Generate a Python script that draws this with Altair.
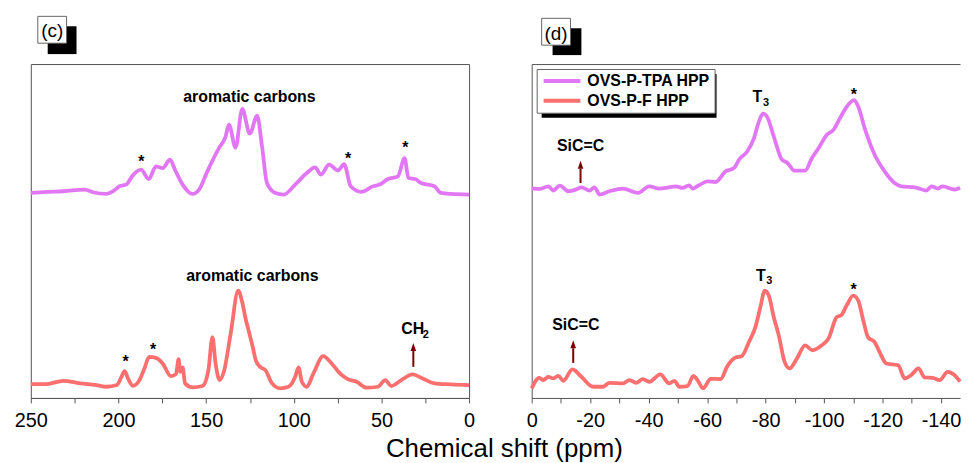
import altair as alt
import pandas as pd

FONT = "Liberation Sans"
FRAME = "#555555"
VIOLET = "#E277F6"
RED = "#FB6F6F"
ARROW = "#7A0000"
SERIES = ["OVS-P-TPA HPP", "OVS-P-F HPP"]

# ---------------- panel (c): 13C spectra ----------------
c_top_ppm = [250, 240.9, 231.5, 219.2, 214.5, 206.9, 203.1, 199.4, 195.6, 191.8, 187.1, 182.7,
             178.6, 174.8, 170.6, 167.6, 163.4, 157.8, 154, 149.3, 142.7, 138.9, 137, 133.2,
             129.4, 125.1, 120.9, 118.1, 115.3, 110.5, 105.8, 99.2, 92.6, 87.8, 84.5, 79.9,
             74.7, 71.3, 67.5, 61.4, 54.8, 51, 46.3, 40.6, 36.8, 34.6, 30.8, 27.4, 19.8, 16,
             10.4, 0]
c_top_int = [206.3, 207.3, 208, 209.7, 207, 205.3, 208, 213, 214.7, 224, 229.7, 220.3,
             233, 231.3, 239.7, 229, 214.7, 205.3, 209.7, 228, 251.3, 263, 275, 252,
             291, 266, 284, 253, 216.3, 206.3, 204.7, 214.7, 226.3, 232, 224.7, 234.7,
             229, 235.3, 213, 207.3, 213, 214.7, 220.3, 223, 241.3, 221.3, 220.3, 216.3, 213, 206.3,
             205.3, 204.7]

c_bot_ppm = [250, 240.9, 231.5, 222, 212.6, 206.9, 200.9, 198.4, 196.5, 194.6, 191.8, 188,
             185.2, 182.4, 178.6, 174.8, 170.1, 167.2, 165.7, 164.8, 163.4, 162, 157.8, 152.1,
             148.7, 146.4, 144.6, 142.3, 139.9, 136, 131.7, 129.5, 127.5, 125.5, 123.5, 121.5,
             119, 116.2, 112.4, 107.7, 103, 99.2, 97.3, 95.4, 92.6, 88.8, 83.2, 78.4, 73.7,
             69, 64.2, 58.6, 52, 47.8, 44.4, 38.7, 32.2, 26.5, 19.8, 10.4, 0]
c_bot_int = [14, 14, 17.3, 14.7, 13, 11.3, 13, 20.7, 27, 19.7, 12.3, 18,
             29.7, 41.3, 40.3, 34.7, 22, 24, 39, 26.3, 30.7, 14.7, 10.7, 12,
             28, 61.3, 34.7, 18, 26.3, 64.7, 108, 97, 80, 66, 52, 37,
             31, 28, 14.7, 9.7, 11.3, 21.3, 30.7, 16.3, 11.3, 24.7, 42, 34.7, 24.7,
             18.7, 16.3, 10.3, 11.3, 18, 12, 18, 23.7, 19.7, 14.7, 13.7, 13]

c_lab_text = ["aromatic carbons", "*", "*", "*", "aromatic carbons", "*", "*"]
c_lab_ppm = [125.3, 187, 69, 36.3, 123.6, 196, 180.3]
c_lab_y = [298, 232, 235, 246, 118, 31, 43]

c_sub_text = ["CH", "2"]
c_sub_ppm = [38.7, 26.4]
c_sub_y = [64, 60]
c_sub_size = [16, 11]

c_arrow_ppm = [31.8]
c_arrow_y0 = [31.3]
c_arrow_y1 = [47.3]
c_arrow_head = [51.3]

# ---------------- panel (d): 29Si spectra ----------------
d_top_ppm = [0, -2.8, -5.7, -7.4, -9.6, -12.5, -15.1, -17, -19.8, -21.5, -23.2, -26.6, -31.2,
             -36.3, -40.2, -43.6, -47, -49.3, -51.6, -53.8, -55, -57.2, -60.1, -62.9, -66.3,
             -69.2, -70.9, -73.7, -76, -77.7, -79.1, -80.5, -82.8, -85.6, -87.3, -89.9, -93.5,
             -95.8, -98.1, -100.9, -103.2, -105.4, -107.7, -110.3, -111.7, -113.9, -117.3,
             -120.7, -124.1, -126.4, -131, -134.9, -136.8, -138.9, -140.6, -144.6, -146.5]
d_top_int = [211, 210.3, 213, 208.7, 213.7, 208, 209.7, 212, 208.7, 212, 204.7, 208, 210.7,
             206.3, 213, 210.7, 212, 213, 211.3, 214, 210.7, 214, 218, 217.3, 228,
             231.3, 239.7, 248, 261.3, 278, 286, 283, 263, 239.7, 237, 228.7, 228.7,
             241.3, 251.3, 264.7, 269.7, 281.3, 293, 299.7, 293, 271.3, 244.7,
             228, 216.3, 213, 212, 208.7, 213, 210.7, 213, 209.7, 211.5]

d_bot_ppm = [0, -2.6, -4, -5.7, -7.4, -9.1, -10.8, -13.9, -17, -21, -24.4, -26.6, -31.2,
             -33.4, -35.7, -38, -40.2, -44, -47, -48.8, -50.5, -53.3, -55.3, -56.7, -58.6,
             -61.2, -64.6, -66.9, -69.7, -71.8, -74.3, -76.5, -78.2, -79.7, -81.1, -82.8,
             -84.5, -86.5, -88.2, -90.7, -93.5, -96, -99.2, -101.5, -104.3, -106, -107.7,
             -110, -111.7, -113.4, -115.1, -117.3, -118.7, -121.3, -125.3, -127.6, -129.8,
             -132.3, -134.4, -137.2, -139.5, -142.3, -144.6, -146.5]
d_bot_int = [9.7, 20.3, 18, 21.3, 19.7, 22.3, 17.3, 28.7, 21.3, 11.3, 11.3, 15.3, 14.7,
             18, 15.3, 19, 16.3, 23.7, 14.7, 17.3, 11.3, 12, 22.3, 18, 9.7,
             19.3, 19, 32, 40.7, 42, 56.3, 71.3, 91.3, 108, 103, 81.3,
             63, 36.3, 29.7, 39.7, 53, 48, 53, 59.7, 81.3, 83.7, 93,
             103, 98, 78, 60.7, 56.3, 48, 34.7, 33, 19.7, 23,
             29.7, 20.7, 20.3, 18, 26.3, 23, 16.5]

d_lab_text = ["*", "SiC=C", "*", "SiC=C"]
d_lab_ppm = [-110.2, -16.7, -110.1, -15.1]
d_lab_y = [300, 248, 104, 68]

d_sub_text = ["T", "3", "T", "3"]
d_sub_ppm = [-75.5, -79.1, -76.7, -80.2]
d_sub_y = [298, 294, 118, 114.5]
d_sub_size = [16, 11, 16, 11]

d_arrow_ppm = [-16.7, -14.2]
d_arrow_y0 = [216.3, 35.3]
d_arrow_y1 = [230.7, 50]
d_arrow_head = [234.7, 54]

# ---------------- tables ----------------
c_spec = pd.concat([
    pd.DataFrame({"ppm": c_top_ppm, "y": c_top_int, "series": SERIES[0]}),
    pd.DataFrame({"ppm": c_bot_ppm, "y": c_bot_int, "series": SERIES[1]}),
])
d_spec = pd.concat([
    pd.DataFrame({"ppm": d_top_ppm, "y": d_top_int, "series": SERIES[0]}),
    pd.DataFrame({"ppm": d_bot_ppm, "y": d_bot_int, "series": SERIES[1]}),
])
c_lab = pd.DataFrame({"ppm": c_lab_ppm, "y": c_lab_y, "text": c_lab_text})
d_lab = pd.DataFrame({"ppm": d_lab_ppm, "y": d_lab_y, "text": d_lab_text})
c_sub = pd.DataFrame({"ppm": c_sub_ppm, "y": c_sub_y, "text": c_sub_text, "size": c_sub_size})
d_sub = pd.DataFrame({"ppm": d_sub_ppm, "y": d_sub_y, "text": d_sub_text, "size": d_sub_size})
c_arr = pd.DataFrame({"ppm": c_arrow_ppm, "y": c_arrow_y0, "y2": c_arrow_y1, "yh": c_arrow_head})
d_arr = pd.DataFrame({"ppm": d_arrow_ppm, "y": d_arrow_y0, "y2": d_arrow_y1, "yh": d_arrow_head})
one = pd.DataFrame({"k": [0]})

W_C, W_D, H = 441, 431, 336

y_scale = alt.Scale(domain=[0, 336], nice=False, zero=False)
c_scale = alt.Scale(domain=[0, 250], reverse=True, nice=False, zero=False)
d_scale = alt.Scale(domain=[-146.5, 0], reverse=True, nice=False, zero=False)

axis_common = dict(domainColor=FRAME, domainWidth=1, tickColor=FRAME, tickWidth=1, tickSize=5,
                   labelFont=FONT, labelFontSize=20, labelColor="black", labelPadding=8,
                   labelFlush=False, labelOverlap=False, grid=False)

c_axis = alt.Axis(values=list(range(0, 251, 25)),
                  labelExpr="datum.value % 50 == 0 ? toString(datum.value) : ''",
                  title="Chemical shift (ppm)", titleFont=FONT, titleFontSize=26,
                  titleFontWeight="normal", titleColor="black", titleX=476, titleY=59,
                  titleAlign="center", titleBaseline="alphabetic", **axis_common)
d_axis = alt.Axis(values=list(range(0, -141, -10)),
                  labelExpr="datum.value % 20 == 0 ? toString(datum.value) : ''",
                  title=None, **axis_common)
d_top_axis = alt.Axis(orient="top", labels=False, ticks=False, domain=True, domainColor=FRAME,
                      domainWidth=1, title=None, grid=False)
d_y_axis = alt.Axis(orient="left", labels=False, ticks=False, domain=True, domainColor=FRAME,
                    domainWidth=1, title=None, grid=False)

Xc = lambda ax: alt.X("ppm:Q", scale=c_scale, axis=ax)
Xd = lambda ax: alt.X("ppm:Q", scale=d_scale, axis=ax)
Yc = alt.Y("y:Q", scale=y_scale, axis=None)
Yd = alt.Y("y:Q", scale=y_scale, axis=d_y_axis)

color_c = alt.Color("series:N", scale=alt.Scale(domain=SERIES, range=[VIOLET, RED]), legend=None)
color_d = alt.Color("series:N", scale=alt.Scale(domain=SERIES, range=[VIOLET, RED]),
                    legend=alt.Legend(title=None, orient="none", legendX=5, legendY=5,
                                      fillColor="white", strokeColor="#666666", padding=4,
                                      symbolType="M-1,0H6.4", symbolSize=100,
                                      symbolStrokeWidth=4, labelFont=FONT, labelFontSize=16,
                                      labelFontWeight="bold", labelColor="black",
                                      labelOffset=31, rowPadding=4, zindex=1))


def panel_tag(label, bx, by, sx, sy, tx, ty):
    shadow = alt.Chart(one).mark_rect(color="black").encode(
        x=alt.value(sx[0]), x2=alt.value(sx[1]), y=alt.value(sy[0]), y2=alt.value(sy[1]))
    box = alt.Chart(one).mark_rect(fill="white", stroke="#666666", strokeWidth=1).encode(
        x=alt.value(bx[0]), x2=alt.value(bx[1]), y=alt.value(by[0]), y2=alt.value(by[1]))
    txt = alt.Chart(one).mark_text(text=label, font=FONT, fontSize=19, color="black",
                                   align="center", baseline="middle").encode(
        x=alt.value(tx), y=alt.value(ty))
    return [shadow, box, txt]


# ---- panel c ----
c_lines = alt.Chart(c_spec).mark_line(strokeWidth=3.8, interpolate="monotone").encode(
    x=Xc(c_axis), y=Yc, color=color_c, detail="series:N")
c_text = alt.Chart(c_lab).mark_text(font=FONT, fontSize=16, fontWeight="bold", color="black",
                                    align="center", baseline="alphabetic").encode(
    x=Xc(c_axis), y=Yc, text="text:N")
c_subt = alt.Chart(c_sub).mark_text(font=FONT, fontWeight="bold", color="black",
                                    align="left", baseline="alphabetic").encode(
    x=Xc(c_axis), y=Yc, text="text:N", size=alt.Size("size:Q", scale=None, legend=None))
c_rule = alt.Chart(c_arr).mark_rule(color=ARROW, strokeWidth=2).encode(
    x=Xc(c_axis), y=Yc, y2="y2:Q")
c_head = alt.Chart(c_arr).mark_point(shape="M0,-1L0.7,1L-0.7,1Z", size=64, filled=True,
                                     color=ARROW, opacity=1, strokeWidth=0).encode(
    x=Xc(c_axis), y=alt.Y("yh:Q", scale=y_scale, axis=None))

panel_c = alt.layer(
    *panel_tag("(c)", (7, 36), (-48, -21), (17, 46), (-38, -10), 21.5, -33),
    c_lines, c_text, c_subt, c_rule, c_head,
).properties(width=W_C, height=H)

# ---- panel d ----
legend_shadow = alt.Chart(one).mark_rect(color="black").encode(
    x=alt.value(10), x2=alt.value(186), y=alt.value(10), y2=alt.value(54))
d_lines = alt.Chart(d_spec).mark_line(strokeWidth=3.8, interpolate="monotone").encode(
    x=Xd(d_axis), y=Yd, color=color_d, detail="series:N")
d_text = alt.Chart(d_lab).mark_text(font=FONT, fontSize=16, fontWeight="bold", color="black",
                                    align="center", baseline="alphabetic").encode(
    x=Xd(d_top_axis), y=Yd, text="text:N")
d_subt = alt.Chart(d_sub).mark_text(font=FONT, fontWeight="bold", color="black",
                                    align="left", baseline="alphabetic").encode(
    x=Xd(None), y=Yd, text="text:N", size=alt.Size("size:Q", scale=None, legend=None))
d_rule = alt.Chart(d_arr).mark_rule(color=ARROW, strokeWidth=2).encode(
    x=Xd(None), y=Yd, y2="y2:Q")
d_head = alt.Chart(d_arr).mark_point(shape="M0,-1L0.7,1L-0.7,1Z", size=64, filled=True,
                                     color=ARROW, opacity=1, strokeWidth=0).encode(
    x=Xd(None), y=alt.Y("yh:Q", scale=y_scale, axis=d_y_axis))

panel_d = alt.layer(
    legend_shadow,
    *panel_tag("(d)", (10, 39), (-46, -19), (21, 50), (-36, -9), 24.5, -30),
    d_lines, d_text, d_subt, d_rule, d_head,
).resolve_axis(x="independent").properties(
    width=W_D, height=H, view=alt.ViewBackground(strokeOpacity=0))

chart = alt.hconcat(panel_c, panel_d, spacing=63, bounds="flush").resolve_scale(
    color="independent").resolve_legend(color="independent").properties(
    padding={"left": 13, "top": 14, "right": 0, "bottom": 0},
    background="white",
).configure(font=FONT).configure_view(stroke=FRAME, strokeWidth=1)

chart.save("out.html", embed_options={"renderer": "svg", "actions": False})
